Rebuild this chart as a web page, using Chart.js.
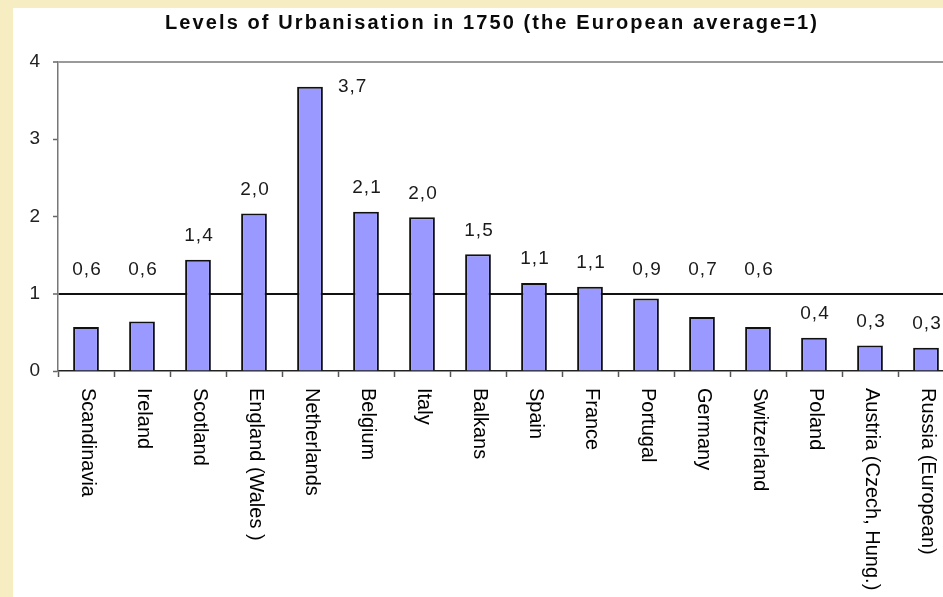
<!DOCTYPE html>
<html>
<head>
<meta charset="utf-8">
<script src="https://cdn.jsdelivr.net/npm/chart.js@4"></script>
<style>
  html, body { margin: 0; padding: 0; overflow: hidden; }
  body { width: 943px; height: 597px; background: #f7edc2; position: relative; }
  #panel { position: absolute; left: 13px; top: 8px; width: 941px; height: 589px; background: #fff; }
  #title {
    position: absolute; left: 152px; top: 4px; white-space: nowrap;
    font: bold 20px "Liberation Sans", Arial, sans-serif; line-height: 20px;
    letter-spacing: 2.1px; color: #0a0a0a;
  }
</style>
</head>
<body>
<div id="panel">
  <div id="title">Levels of Urbanisation in 1750 (the European average=1)</div>
  <canvas id="urbanChart" width="941" height="589"></canvas>
</div>
<script>
const countries = ['Scandinavia', 'Ireland', 'Scotland', 'England (Wales )', 'Netherlands', 'Belgium',
    'Italy', 'Balkans', 'Spain', 'France', 'Portugal', 'Germany', 'Switzerland', 'Poland',
    'Austria (Czech, Hung.)', 'Russia (European)'];
const urbanisation = [0.57, 0.64, 1.44, 2.04, 3.68, 2.06, 1.99, 1.51, 1.14, 1.09, 0.94, 0.70, 0.57, 0.43, 0.33, 0.30];
const yTicks = [0, 1, 2, 3, 4];

const FONT = '"Liberation Sans", Arial, sans-serif';

// value labels above the bars (comma decimals like the original)
const valueLabels = {
    id: 'valueLabels',
    afterDatasetsDraw(chart) {
        const ctx = chart.ctx;
        const yScale = chart.scales.y;
        const meta = chart.getDatasetMeta(0);
        ctx.save();
        ctx.font = '19px ' + FONT;
        ctx.fillStyle = '#1a1a1a';
        ctx.letterSpacing = '1px';
        ctx.textBaseline = 'middle';
        meta.data.forEach((bar, i) => {
            const v = urbanisation[i];
            const text = v.toFixed(1).replace('.', ',');
            // keep labels of bars just under the average line above that line
            const anchor = (v >= 0.5 && v < 1) ? 1 : v;
            let y = yScale.getPixelForValue(anchor) - 24;
            if (y < chart.chartArea.top + 20) {
                ctx.textAlign = 'left';
                ctx.fillText(text, bar.x + bar.width / 2 + 15, bar.y);
            } else {
                ctx.textAlign = 'center';
                ctx.fillText(text, bar.x + 1, y);
            }
        });
        ctx.restore();
    }
};

// category names written top-to-bottom under the axis
const verticalLabels = {
    id: 'verticalLabels',
    afterDraw(chart) {
        const ctx = chart.ctx;
        const xScale = chart.scales.x;
        ctx.save();
        ctx.font = '20px ' + FONT;
        ctx.fillStyle = '#000';
        ctx.textAlign = 'left';
        ctx.textBaseline = 'middle';
        countries.forEach((name, i) => {
            const x = xScale.getPixelForTick(i) + 2;
            ctx.save();
            ctx.translate(x, xScale.top + 17);
            ctx.rotate(Math.PI / 2);
            ctx.fillText(name, 0, 0);
            ctx.restore();
        });
        ctx.restore();
    }
};

new Chart(document.getElementById('urbanChart'), {
    type: 'bar',
    data: {
        labels: countries,
        datasets: [{
            data: urbanisation,
            backgroundColor: '#9999ff',
            borderColor: '#111',
            borderWidth: 2,
            barPercentage: 0.46,
            categoryPercentage: 1
        }]
    },
    options: {
        responsive: false,
        animation: false,
        layout: { padding: { top: 54, right: 0, left: 0, bottom: 0 } },
        plugins: {
            legend: { display: false },
            tooltip: { enabled: false },
            title: { display: false }
        },
        scales: {
            x: {
                offset: true,
                grid: {
                    offset: true,
                    drawOnChartArea: false,
                    color: 'transparent',
                    tickColor: '#555',
                    tickWidth: 1.5,
                    tickLength: 6
                },
                border: { color: '#222', width: 1.5 },
                ticks: { display: false },
                afterFit: scale => { scale.height = 226; }
            },
            y: {
                min: 0,
                max: 4,
                afterBuildTicks: scale => { scale.ticks = yTicks.map(v => ({ value: v })); },
                grid: {
                    color: c => c.tick && c.tick.value === 1 ? '#111'
                        : (c.tick && c.tick.value === 4 ? '#9a9a9a' : 'transparent'),
                    lineWidth: c => (c.tick && (c.tick.value === 1 || c.tick.value === 4)) ? 2 : 1,
                    tickColor: '#666',
                    tickWidth: 1.5,
                    tickLength: 5
                },
                border: { color: '#777', width: 1.5 },
                ticks: {
                    font: { size: 19, family: FONT },
                    color: '#222',
                    padding: 13
                },
                afterFit: scale => { scale.width = 45; }
            }
        }
    },
    plugins: [valueLabels, verticalLabels]
});
</script>
</body>
</html>
